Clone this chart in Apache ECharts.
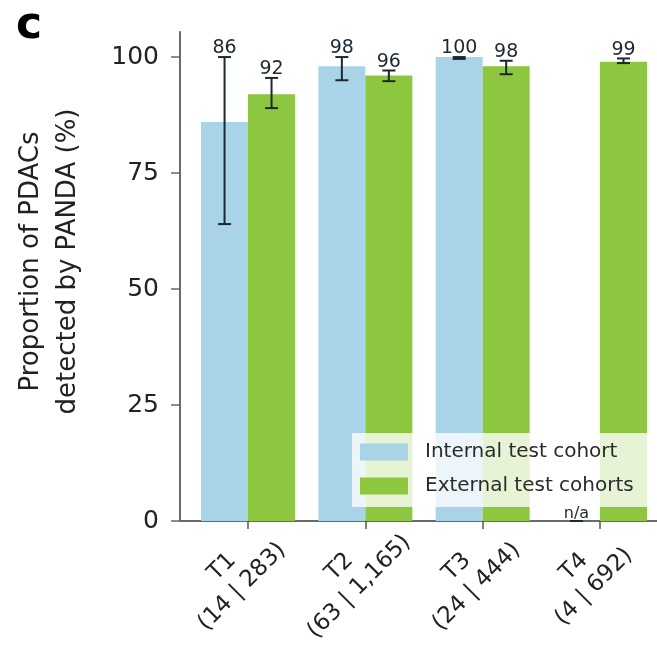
<!DOCTYPE html>
<html>
<head>
<meta charset="utf-8">
<script src="https://cdn.jsdelivr.net/npm/echarts@6/dist/echarts.min.js"></script>
<style>
  html, body { margin: 0; padding: 0; background: #fff; }
  #chart { width: 657px; height: 645px; }
</style>
</head>
<body>
<div id="chart"></div>
<script>
// Tumour stage groups and case counts (internal | external)
const stages = ['T1', 'T2', 'T3', 'T4'];
const counts = ['14 | 283', '63 | 1,165', '24 | 444', '4 | 692'];

// Detection rate (%) per stage; null = no cases in the internal cohort
const internalValues = [86, 98, 100, null];
const internalLow = [64, 95, 99.6, null];
const internalHigh = [100, 100, 100, null];

const externalValues = [92, 96, 98, 99];
const externalLow = [89, 94.8, 96.3, 98.7];
const externalHigh = [95.5, 97.1, 99.2, 99.7];

const yTicks = [0, 25, 50, 75, 100];

const BLUE = '#a9d4e7';
const GREEN = '#8dc63f';
const INK = '#1c2830';
const FONT = 'DejaVu Sans';
const BAR_W = 47;

const positions = stages.map((_, i) => i);

function barData(values) {
  return positions.map((x, i) => [x, values[i]]);
}

function errData(values, lows, highs) {
  return positions.map((x, i) => values[i] == null ? [x, 0, 0] : [x, lows[i], highs[i]]);
}

// Whisker + value text at a bar's centre (dx = pixel offset from the group centre)
function errRenderer(values, dx) {
  return function (params, api) {
    const i = params.dataIndex;
    const x = api.value(0);
    const pLo = api.coord([x, api.value(1)]);
    const pHi = api.coord([x, api.value(2)]);
    const cx = pLo[0] + dx;
    const cap = 6.5;
    const isNA = values[i] == null;
    const style = { stroke: INK, lineWidth: 2 };
    const children = [
      { type: 'line', shape: { x1: cx - cap, y1: pHi[1], x2: cx + cap, y2: pHi[1] }, style },
      { type: 'line', shape: { x1: cx - cap, y1: pLo[1], x2: cx + cap, y2: pLo[1] }, style }
    ];
    if (pLo[1] - pHi[1] > 1) {
      children.push({ type: 'line', shape: { x1: cx, y1: pLo[1], x2: cx, y2: pHi[1] }, style });
    }
    children.push({
      type: 'text',
      style: {
        x: cx, y: pHi[1] + 1,
        text: isNA ? 'n/a' : String(values[i]),
        fill: INK,
        font: (isNA ? 16 : 19) + 'px "' + FONT + '"',
        align: 'center', verticalAlign: 'bottom'
      }
    });
    return { type: 'group', children };
  };
}

const chart = echarts.init(document.getElementById('chart'), null, { renderer: 'canvas' });

chart.setOption({
  animation: false,
  backgroundColor: '#fff',
  textStyle: { fontFamily: FONT },
  title: {
    text: 'c', left: 16, top: 5, padding: 0,
    textStyle: { fontSize: 44, fontWeight: 900, color: '#000', fontFamily: FONT }
  },
  legend: {
    orient: 'vertical',
    left: 352, top: 433,
    icon: 'rect',
    itemWidth: 48, itemHeight: 17, itemGap: 14,
    padding: [9, 40, 11, 8],
    backgroundColor: 'rgba(255,255,255,0.78)',
    textStyle: { fontSize: 20, color: '#2b2b2b', fontFamily: FONT, padding: [0, 0, 0, 12] },
    data: ['Internal test cohort', 'External test cohorts']
  },
  // the y axis line runs a little past 100, so the plot top sits above the 100 tick
  grid: { left: 180, right: 0, top: 32, bottom: 124, containLabel: false, outerBoundsMode: 'none' },
  xAxis: {
    type: 'value',
    min: -0.58, max: 3.486,
    splitLine: { show: false },
    axisLine: { show: true, onZero: false, lineStyle: { color: '#6a6a6a', width: 2 } },
    axisTick: { show: true, customValues: positions, length: 8, lineStyle: { color: '#555', width: 1.5 } },
    axisLabel: {
      customValues: positions,
      formatter: v => stages[Math.round(v)] + '\n(' + counts[Math.round(v)] + ')',
      rotate: 45, align: 'center', verticalAlign: 'middle',
      margin: 40, padding: [0, 45, 0, 0],
      fontSize: 23, lineHeight: 28, color: '#222', fontFamily: FONT
    }
  },
  yAxis: {
    type: 'value',
    min: 0, max: 105.4,
    name: 'Proportion of PDACs\ndetected by PANDA (%)',
    nameLocation: 'middle', nameRotate: 90, nameGap: 93,
    nameTextStyle: { fontSize: 26, lineHeight: 37, color: '#222', fontFamily: FONT, padding: [0, 0, 0, 30] },
    splitLine: { show: false },
    axisLine: { show: true, onZero: false, lineStyle: { color: '#6a6a6a', width: 2 } },
    axisTick: { show: true, customValues: yTicks, length: 9, lineStyle: { color: '#6a6a6a', width: 1.5 } },
    axisLabel: {
      customValues: yTicks,
      fontSize: 25, color: '#222', margin: 21, fontFamily: FONT
    }
  },
  series: [
    {
      name: 'Internal test cohort', type: 'bar',
      data: barData(internalValues),
      barWidth: BAR_W, barGap: '0%',
      itemStyle: { color: BLUE }
    },
    {
      name: 'External test cohorts', type: 'bar',
      data: barData(externalValues),
      barWidth: BAR_W, barGap: '0%',
      itemStyle: { color: GREEN }
    },
    {
      type: 'custom', z: 5, silent: true,
      data: errData(internalValues, internalLow, internalHigh),
      renderItem: errRenderer(internalValues, -BAR_W / 2),
      encode: { x: 0, y: [1, 2] }
    },
    {
      type: 'custom', z: 5, silent: true,
      data: errData(externalValues, externalLow, externalHigh),
      renderItem: errRenderer(externalValues, BAR_W / 2),
      encode: { x: 0, y: [1, 2] }
    }
  ]
});
</script>
</body>
</html>
